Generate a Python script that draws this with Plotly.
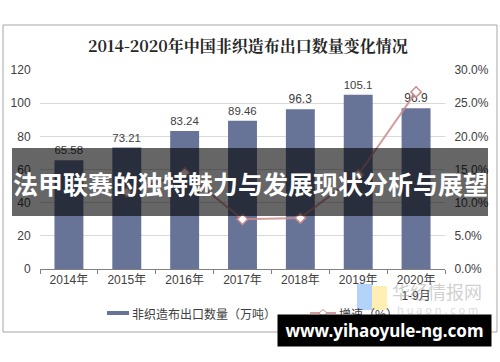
import plotly.graph_objects as go

years = ["2014年", "2015年", "2016年", "2017年", "2018年", "2019年", "2020年<br>1-9月"]
export_qty = [65.58, 73.21, 83.24, 89.46, 96.3, 105.1, 96.9]
growth = [None, 11.6, 14.5, 7.5, 7.7, 14.2, 26.7]
title = "2014-2020年中国非织造布出口数量变化情况"
banner = "法甲联赛的独特魅力与发展现状分析与展望"
site = "www.yihaoyule-ng.com"
legend_bar = "非织造布出口数量（万吨）"
legend_line = "增速（%）"

# pixel -> paper helpers (plot area x 40..445, y 70..269)
L, R, T, B = 40, 445, 70, 269
def px(x):
    return (x - L) / (R - L)
def py(y):
    return (B - y) / (B - T)

bar_color = "#687398"
line_color = "rgba(205,140,140,0.85)"

fig = go.Figure()
fig.add_trace(go.Bar(
    x=years, y=export_qty, name=legend_bar,
    marker=dict(color=bar_color, line=dict(width=0)),
    text=[f"{v:g}" for v in export_qty], textposition="outside",
    textfont=dict(size=12, color="#404040", family="Liberation Sans, Arial"),
    cliponaxis=False,
))
fig.add_trace(go.Scatter(
    x=years, y=growth, name=legend_line, yaxis="y2", mode="lines+markers",
    line=dict(color=line_color, width=2),
    marker=dict(symbol="diamond", size=8, color="white",
                line=dict(color="rgba(205,140,140,1)", width=1.5)),
    connectgaps=False,
))

shapes = [
    # frame
    dict(type="rect", xref="paper", yref="paper", x0=px(3), x1=px(497), y0=py(332), y1=py(25),
         line=dict(color="#a6a6a6", width=1), fillcolor="rgba(0,0,0,0)", layer="below"),
    # custom legend symbols
    dict(type="rect", xref="paper", yref="paper", x0=px(107), x1=px(129), y0=py(315), y1=py(311),
         line=dict(width=0), fillcolor=bar_color, layer="above"),
    dict(type="line", xref="paper", yref="paper", x0=px(310), x1=px(336), y0=py(313), y1=py(313),
         line=dict(color=line_color, width=2), layer="above"),
    dict(type="path", xref="paper", yref="paper",
         path=f"M {px(319)} {py(313)} L {px(323)} {py(309.5)} L {px(327)} {py(313)} L {px(323)} {py(316.5)} Z",
         line=dict(color="rgba(205,140,140,1)", width=1), fillcolor="white", layer="above"),
    # huaon logo
    dict(type="rect", xref="paper", yref="paper", x0=px(357), x1=px(372), y0=py(310), y1=py(284),
         line=dict(width=0), fillcolor="rgba(160,200,250,0.8)", layer="above"),
    dict(type="rect", xref="paper", yref="paper", x0=px(372), x1=px(387), y0=py(310), y1=py(286),
         line=dict(width=0), fillcolor="rgba(255,235,160,0.8)", layer="above"),
    # banner
    dict(type="rect", xref="paper", yref="paper", x0=px(12), x1=px(488), y0=py(216), y1=py(148),
         line=dict(width=0), fillcolor="rgba(0,0,0,0.6)", layer="above"),
]

def ann(text, x, y, size, color, family, xanchor="center", **kw):
    d = dict(text=text, xref="paper", yref="paper", x=px(x), y=py(y),
             xanchor=xanchor, yanchor="middle", showarrow=False,
             font=dict(size=size, color=color, family=family))
    d.update(kw)
    return d

annotations = [
    ann(f"<b>{title}</b>", 248, 45, 16, "#262626", "Noto Serif CJK SC, Noto Sans CJK SC"),
    ann(legend_bar, 130, 313, 12, "#404040", "Noto Sans CJK SC", xanchor="left"),
    ann(legend_line, 337, 313, 12, "#404040", "Noto Sans CJK SC", xanchor="left"),
    ann("华经情报网", 437, 291, 18, "rgba(160,160,160,0.5)", "Noto Sans CJK SC"),
    ann("h u a o n . c o m", 437, 309, 11, "rgba(170,170,170,0.45)", "Noto Sans"),
    ann(f"<b>{banner}</b>", 250, 183, 25, "white", "Noto Sans CJK SC"),
    ann(f"<b>{site}</b>", 384.5, 330.5, 17, "white", "Noto Sans, DejaVu Sans",
        width=205, height=23, align="center", bgcolor="black", borderpad=4),
]

fig.update_layout(
    width=500, height=362,
    margin=dict(l=L, r=500 - R, t=T, b=362 - B, autoexpand=False),
    paper_bgcolor="white", plot_bgcolor="white",
    bargap=0.5,
    showlegend=False,
    hovermode=False,
    xaxis=dict(type="category", showline=True, linecolor="#808080", linewidth=1, automargin=False,
               ticks="outside", tickson="boundaries", ticklen=4, tickcolor="#808080",
               tickfont=dict(size=12, color="#404040", family="Liberation Sans, Noto Sans CJK SC")),
    yaxis=dict(range=[0, 120], dtick=20, showgrid=True, gridcolor="#d9d9d9", gridwidth=1,
               zeroline=False, ticks="outside", ticklen=6, tickcolor="white", automargin=False,
               tickfont=dict(size=12, color="#404040", family="Liberation Sans, Arial")),
    yaxis2=dict(range=[0, 30], dtick=5, overlaying="y", side="right", showgrid=False,
                zeroline=False, ticksuffix="%", tickformat=".1f", ticks="outside", ticklen=6,
                tickcolor="white", automargin=False,
                tickfont=dict(size=12, color="#404040", family="Liberation Sans, Arial")),
    shapes=shapes, annotations=annotations,
)

fig.write_html("out.html", config={"displayModeBar": False},
               post_script="document.body.style.margin='0';document.body.style.overflow='hidden';")
